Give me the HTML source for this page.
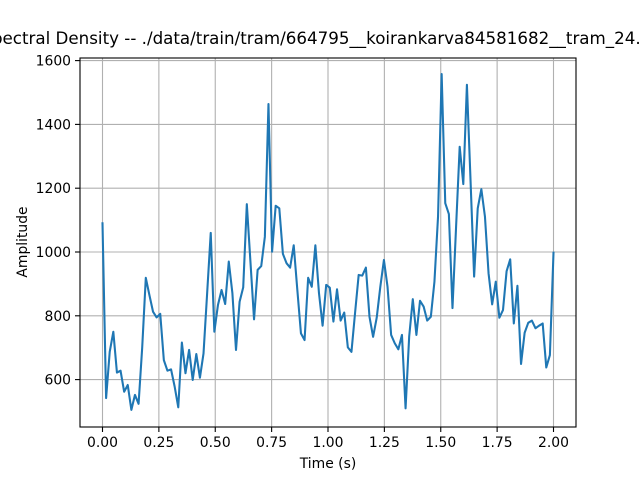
<!DOCTYPE html>
<html><head><meta charset="utf-8"><style>
body{margin:0;background:#fff;width:640px;height:480px;overflow:hidden}
svg text{font-family:"DejaVu Sans","Liberation Sans",sans-serif;fill:#000}
</style></head><body>
<svg id="chart" width="640" height="480" viewBox="0 0 640 480" xmlns="http://www.w3.org/2000/svg">
<rect width="640" height="480" fill="#fff"/>
<g id="grid"></g>
<g id="ticks"></g>
<path id="line" fill="none" stroke="#1f77b4" stroke-width="2.08" stroke-linejoin="round" stroke-linecap="square"/>
<rect x="80" y="58" width="496" height="369" fill="none" stroke="#000" stroke-width="1.1"/>
<text x="300" y="44" font-size="16.7" text-anchor="middle">Power Spectral Density -- ./data/train/tram/664795__koirankarva84581682__tram_24.wav</text>
<text x="328" y="468" font-size="13.9" text-anchor="middle">Time (s)</text>
<text x="27" y="242" font-size="13.9" text-anchor="middle" transform="rotate(-90 27 242)">Amplitude</text>
</svg>
<script>
const amplitudes = [1090,542,687,750,622,628,562,583,505,552,524,700,919,865,813,795,806,661,628,632,578,513,716,620,693,599,680,606,682,870,1060,750,834,881,837,970,871,693,844,889,1150,
970,789,944,956,1048,1464,1001,1145,1137,994,965,951,1021,881,745,724,919,891,1021,871,769,897,888,782,883,785,810,701,687,809,928,926,951,797,734,794,891,975,891,740,714,695,
740,510,735,852,740,847,829,785,797,907,1111,1558,1153,1119,824,1079,1330,1213,1524,1226,923,1137,1197,1111,933,836,907,794,818,940,977,776,894,649,747,778,785,761,769,776,638,677,998];
const tEnd = 2.0;
const xTicks = [0,0.25,0.5,0.75,1.0,1.25,1.5,1.75,2.0];
const xTickLabels = ["0.00","0.25","0.50","0.75","1.00","1.25","1.50","1.75","2.00"];
const yTicks = [600,800,1000,1200,1400,1600];
const yTickLabels = ["600","800","1000","1200","1400","1600"];

const NS="http://www.w3.org/2000/svg";
function xs(t){return 102.5+t*(553.5-102.5)/2;}
function ys(v){return 252-(v-1000)*0.319;}
const grid=document.getElementById('grid'), ticks=document.getElementById('ticks');
function mk(tag,attrs,parent){const e=document.createElementNS(NS,tag);for(const k in attrs)e.setAttribute(k,attrs[k]);parent.appendChild(e);return e;}
xTicks.forEach((t,i)=>{
  const x=xs(t);
  const g=mk('line',{x1:x,x2:x,y1:58,y2:427,stroke:'#b0b0b0','stroke-width':1.1},grid);
  
  
  const tk=mk('line',{x1:x,x2:x,y1:427,y2:432,stroke:'#000','stroke-width':1.1},ticks);
  
  
  const tx=mk('text',{x:x,y:447,'font-size':13.9,'text-anchor':'middle'},ticks);
  tx.textContent=xTickLabels[i];
  
  
});
yTicks.forEach((v,i)=>{
  const y=ys(v);
  const g=mk('line',{x1:80,x2:576,y1:y,y2:y,stroke:'#b0b0b0','stroke-width':1.1},grid);
  
  
  const tk=mk('line',{x1:75,x2:80,y1:y,y2:y,stroke:'#000','stroke-width':1.1},ticks);
  
  
  const tx=mk('text',{x:71,y:y+5,'font-size':13.9,'text-anchor':'end'},ticks);
  tx.textContent=yTickLabels[i];
  
  
});
const n=amplitudes.length;
let d='';
amplitudes.forEach((v,i)=>{const t=i*tEnd/(n-1);d+=(i?'L':'M')+xs(t).toFixed(2)+','+ys(v).toFixed(2);});
document.getElementById('line').setAttribute('d',d);
</script>
</body></html>
